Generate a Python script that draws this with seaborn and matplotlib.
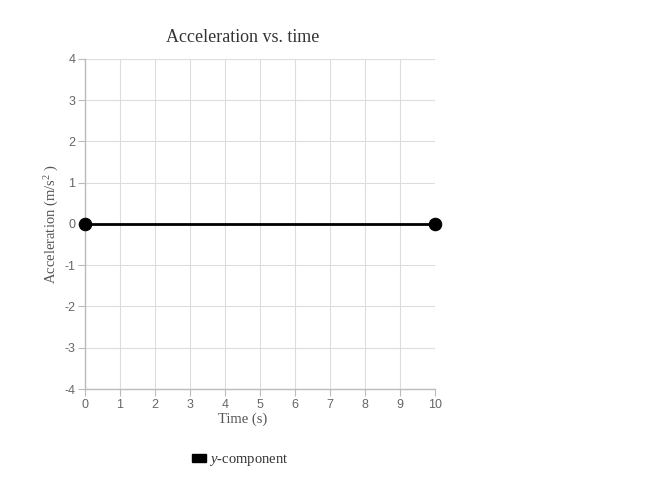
import matplotlib
matplotlib.use("Agg")
import matplotlib.pyplot as plt
import seaborn as sns
import pandas as pd
from matplotlib.patches import Patch

# data
time_s = [0, 10]
accel_y = [0, 0]
x_ticks = list(range(0, 11))
y_ticks = list(range(-4, 5))

sns.set_style("whitegrid")
plt.rcParams['font.family'] = ['Liberation Sans', 'DejaVu Sans']
plt.rcParams['axes.unicode_minus'] = False
plt.rcParams['mathtext.fontset'] = 'custom'
plt.rcParams['mathtext.rm'] = 'Liberation Serif'
plt.rcParams['mathtext.it'] = 'Liberation Serif:italic'

df = pd.DataFrame({"t": time_s, "a": accel_y, "series": "y-component"})

fig = plt.figure(figsize=(6.56, 4.86), dpi=100)
ax = fig.add_axes([85 / 656, 97 / 486, 350 / 656, 330 / 486])

sns.lineplot(data=df, x="t", y="a", color="black", linewidth=2,
             marker="o", markersize=9, markeredgecolor="black",
             ax=ax, legend=False, clip_on=False, zorder=5)

ax.set_xlim(0, 10)
ax.set_ylim(-4, 4)
ax.set_xticks(x_ticks)
ax.set_yticks(y_ticks)
ax.grid(True, color="#dddddd", linewidth=0.8)
for side in ["top", "right"]:
    ax.spines[side].set_visible(False)
for side in ["left", "bottom"]:
    ax.spines[side].set_color("#bbbbbb")
    ax.spines[side].set_linewidth(1)
ax.tick_params(axis="both", length=5, color="#bbbbbb", labelsize=9,
               labelcolor="#666666", pad=2, direction="out")
ax.xaxis.set_ticks_position("bottom")
ax.yaxis.set_ticks_position("left")
ax.set_xlabel("")

serif = ['Liberation Serif', 'DejaVu Serif']
fig.text(243 / 656, 1 - 37 / 486, "Acceleration vs. time", family=serif,
         fontsize=13, color="#333333", ha="center", va="center")
fig.text(243 / 656, 1 - 419 / 486, "Time (s)", family=serif,
         fontsize=10.5, color="#555555", ha="center", va="center")
ax.set_ylabel("Acceleration (m/s$^{2}$ )", family=serif, fontsize=10.5,
              color="#555555", labelpad=2)

# legend below
handle = Patch(facecolor="black", edgecolor="black")
leg = fig.legend([handle], ["$\\it{y}$-component"], loc="center",
                 bbox_to_anchor=(240 / 656, 1 - 460 / 486), frameon=False,
                 handlelength=1.0, handleheight=0.5, handletextpad=0.2,
                 prop={"family": serif, "size": 10.5})
for txt in leg.get_texts():
    txt.set_color("#333333")

fig.savefig("out.png", dpi=100)
